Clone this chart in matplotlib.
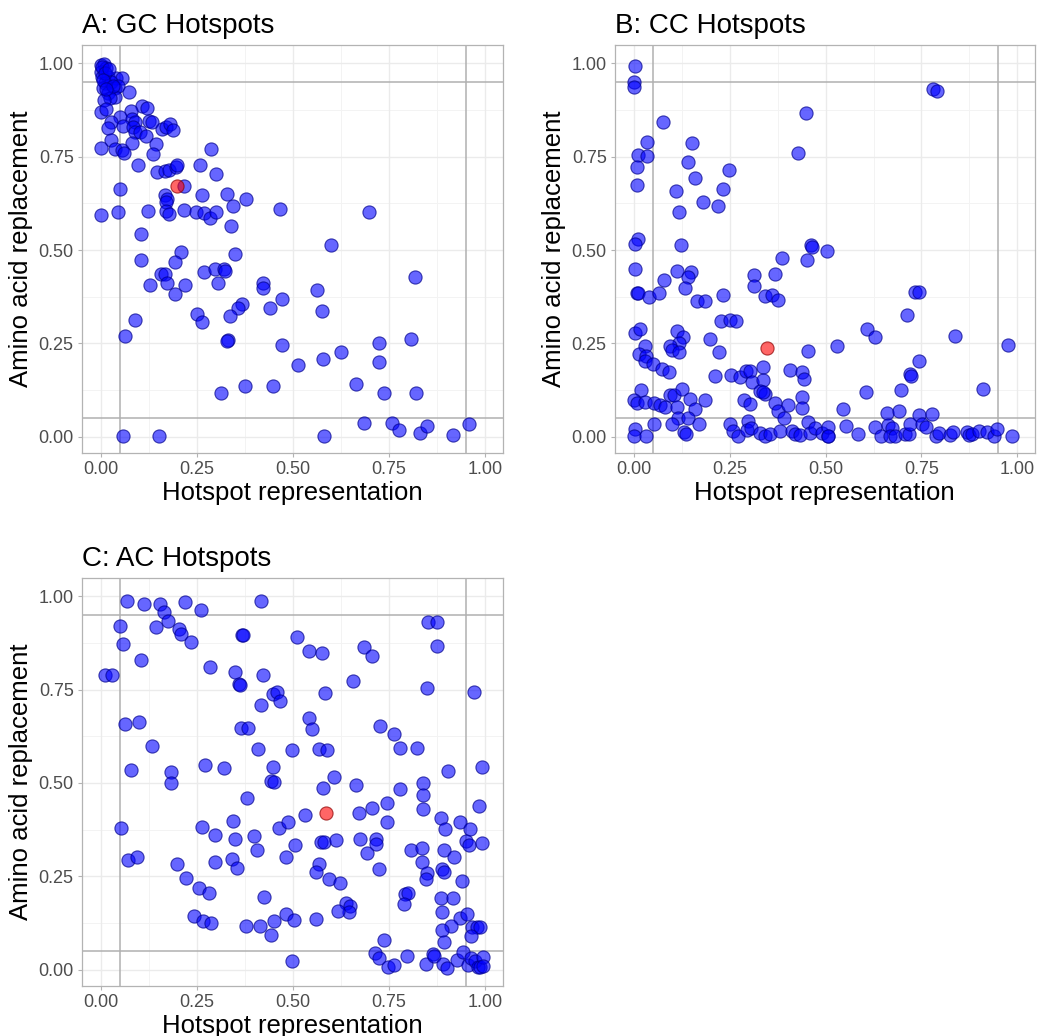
import matplotlib
matplotlib.use("Agg")
import matplotlib.pyplot as plt
import numpy as np

plt.rcParams['font.family'] = ['Liberation Sans', 'DejaVu Sans']

titles = ["A: GC Hotspots", "B: CC Hotspots", "C: AC Hotspots"]
x_label = "Hotspot representation"
y_label = "Amino acid replacement"
tick_vals = [0.0, 0.25, 0.5, 0.75, 1.0]
tick_labels = ["0.00", "0.25", "0.50", "0.75", "1.00"]
ref_lines = [0.05, 0.95]

# Panel A (GC)
gc_x = [0.000, 0.006, 0.013, 0.000, 0.003, 0.017, 0.039, 0.054, 0.009, 0.026, 0.004, 0.035, 0.043, 0.017,
        0.037, 0.022, 0.006, 0.072, 0.000, 0.013, 0.107, 0.119, 0.077, 0.050, 0.026, 0.081, 0.087, 0.124,
        0.132, 0.017, 0.057, 0.083, 0.159, 0.170, 0.180, 0.187, 0.087, 0.100, 0.117, 0.026, 0.080, 0.143,
        0.000, 0.035, 0.055, 0.059, 0.135, 0.285, 0.096, 0.145, 0.165, 0.176, 0.194, 0.197, 0.258, 0.300,
        0.217, 0.050, 0.165, 0.171, 0.170, 0.262, 0.328, 0.377, 0.343, 0.000, 0.043, 0.123, 0.168, 0.177,
        0.216, 0.246, 0.267, 0.283, 0.298, 0.339, 0.467, 0.103, 0.207, 0.350, 0.699, 0.598, 0.103, 0.191,
        0.157, 0.167, 0.126, 0.172, 0.219, 0.191, 0.267, 0.296, 0.320, 0.322, 0.304, 0.423, 0.422, 0.471,
        0.439, 0.368, 0.357, 0.337, 0.250, 0.263, 0.087, 0.061, 0.330, 0.329, 0.471, 0.513, 0.313, 0.376,
        0.448, 0.057, 0.150, 0.818, 0.563, 0.575, 0.577, 0.624, 0.724, 0.808, 0.724, 0.664, 0.738, 0.820,
        0.685, 0.757, 0.777, 0.830, 0.849, 0.916, 0.960, 0.582,
        0.003, 0.010, 0.020, 0.005, 0.030, 0.012]
gc_y = [0.996, 0.997, 0.987, 0.978, 0.964, 0.964, 0.960, 0.960, 0.946, 0.951, 0.935, 0.933, 0.938, 0.920,
        0.911, 0.906, 0.902, 0.924, 0.870, 0.878, 0.886, 0.879, 0.872, 0.857, 0.844, 0.851, 0.844, 0.846,
        0.842, 0.826, 0.832, 0.830, 0.824, 0.830, 0.837, 0.821, 0.817, 0.815, 0.806, 0.795, 0.786, 0.783,
        0.774, 0.771, 0.768, 0.759, 0.756, 0.771, 0.728, 0.708, 0.711, 0.714, 0.723, 0.728, 0.729, 0.703,
        0.672, 0.663, 0.647, 0.637, 0.629, 0.647, 0.650, 0.637, 0.619, 0.594, 0.601, 0.604, 0.604, 0.596,
        0.607, 0.601, 0.598, 0.585, 0.601, 0.565, 0.610, 0.543, 0.496, 0.488, 0.603, 0.513, 0.474, 0.468,
        0.436, 0.436, 0.407, 0.412, 0.405, 0.383, 0.440, 0.450, 0.450, 0.445, 0.412, 0.412, 0.398, 0.370,
        0.346, 0.355, 0.346, 0.322, 0.329, 0.307, 0.313, 0.271, 0.260, 0.255, 0.246, 0.193, 0.117, 0.135,
        0.136, 0.001, 0.001, 0.428, 0.392, 0.336, 0.209, 0.227, 0.250, 0.262, 0.199, 0.142, 0.117, 0.117,
        0.037, 0.037, 0.019, 0.009, 0.029, 0.004, 0.034, 0.003,
        0.990, 0.975, 0.985, 0.955, 0.940, 0.930]
gc_hl_x = [0.197]
gc_hl_y = [0.671]

# Panel B (CC)
cc_x = [0.002, 0.000, 0.000, 0.074, 0.032, 0.009, 0.034, 0.008, 0.008, 0.152, 0.139, 0.159, 0.109, 0.118,
        0.180, 0.218, 0.233, 0.247, 0.448, 0.427, 0.009, 0.002, 0.121, 0.462, 0.463, 0.503, 0.780, 0.791,
        0.002, 0.112, 0.148, 0.139, 0.078, 0.132, 0.006, 0.009, 0.039, 0.065, 0.165, 0.185, 0.233, 0.385,
        0.450, 0.314, 0.368, 0.314, 0.341, 0.361, 0.376, 0.226, 0.250, 0.265, 0.002, 0.015, 0.112, 0.128,
        0.118, 0.093, 0.099, 0.118, 0.028, 0.012, 0.030, 0.028, 0.050, 0.072, 0.091, 0.197, 0.222, 0.453,
        0.336, 0.406, 0.439, 0.443, 0.211, 0.253, 0.276, 0.292, 0.302, 0.307, 0.337, 0.329, 0.341, 0.337,
        0.017, 0.000, 0.006, 0.028, 0.052, 0.067, 0.080, 0.093, 0.105, 0.125, 0.145, 0.112, 0.159, 0.185,
        0.287, 0.302, 0.368, 0.376, 0.392, 0.401, 0.437, 0.439, 0.453, 0.115, 0.139, 0.052, 0.098, 0.170,
        0.002, 0.000, 0.030, 0.130, 0.134, 0.250, 0.258, 0.270, 0.296, 0.294, 0.305, 0.328, 0.341, 0.355,
        0.381, 0.411, 0.420, 0.433, 0.459, 0.472, 0.491, 0.507, 0.507,
        0.733, 0.743, 0.712, 0.608, 0.630, 0.530, 0.837, 0.975, 0.745, 0.721, 0.724, 0.606, 0.698, 0.911,
        0.544, 0.660, 0.691, 0.745, 0.778, 0.506, 0.554, 0.585, 0.628, 0.644, 0.663, 0.672, 0.669, 0.680,
        0.706, 0.718, 0.721, 0.752, 0.762, 0.788, 0.795, 0.826, 0.833, 0.869, 0.874, 0.883, 0.900, 0.921,
        0.941, 0.947, 0.987]
cc_y = [0.994, 0.949, 0.936, 0.842, 0.788, 0.754, 0.753, 0.723, 0.674, 0.786, 0.737, 0.694, 0.658, 0.603,
        0.629, 0.619, 0.663, 0.713, 0.866, 0.759, 0.529, 0.515, 0.513, 0.513, 0.509, 0.498, 0.931, 0.927,
        0.450, 0.445, 0.441, 0.428, 0.421, 0.398, 0.385, 0.385, 0.374, 0.385, 0.363, 0.364, 0.379, 0.479,
        0.472, 0.432, 0.436, 0.404, 0.376, 0.379, 0.367, 0.309, 0.312, 0.311, 0.278, 0.289, 0.282, 0.266,
        0.251, 0.244, 0.233, 0.227, 0.242, 0.221, 0.215, 0.204, 0.195, 0.181, 0.173, 0.263, 0.227, 0.230,
        0.186, 0.178, 0.173, 0.155, 0.162, 0.164, 0.159, 0.175, 0.175, 0.146, 0.153, 0.123, 0.114, 0.120,
        0.126, 0.097, 0.090, 0.093, 0.090, 0.084, 0.079, 0.111, 0.111, 0.129, 0.102, 0.080, 0.075, 0.097,
        0.099, 0.088, 0.090, 0.068, 0.050, 0.084, 0.105, 0.077, 0.039, 0.050, 0.050, 0.034, 0.034, 0.034,
        0.021, 0.001, 0.003, 0.012, 0.008, 0.034, 0.016, 0.001, 0.043, 0.019, 0.023, 0.010, 0.001, 0.007,
        0.014, 0.014, 0.008, 0.005, 0.010, 0.023, 0.010, 0.001, 0.025,
        0.388, 0.387, 0.325, 0.288, 0.266, 0.244, 0.269, 0.246, 0.204, 0.168, 0.162, 0.120, 0.126, 0.128,
        0.075, 0.063, 0.070, 0.059, 0.061, 0.001, 0.029, 0.007, 0.026, 0.001, 0.032, 0.023, 0.001, 0.001,
        0.007, 0.007, 0.034, 0.034, 0.025, 0.003, 0.010, 0.005, 0.012, 0.012, 0.005, 0.008, 0.014, 0.012,
        0.001, 0.021, 0.003]
cc_hl_x = [0.346]
cc_hl_y = [0.238]

# Panel C (AC)
ac_x = [0.068, 0.111, 0.152, 0.163, 0.174, 0.219, 0.261, 0.416, 0.048, 0.143, 0.202, 0.207, 0.233, 0.057,
        0.368, 0.370, 0.510, 0.104, 0.009, 0.029, 0.284, 0.348, 0.423, 0.359, 0.361, 0.448, 0.458, 0.465,
        0.417, 0.063, 0.098, 0.365, 0.383, 0.132, 0.410, 0.497, 0.078, 0.183, 0.183, 0.271, 0.319, 0.448,
        0.443, 0.450,
        0.851, 0.875, 0.875, 0.543, 0.575, 0.686, 0.707, 0.657, 0.583, 0.850, 0.972, 0.542, 0.550, 0.727,
        0.764, 0.569, 0.588, 0.778, 0.823, 0.903, 0.994, 0.608, 0.664, 0.577, 0.779, 0.840,
        0.380, 0.052, 0.263, 0.297, 0.343, 0.350, 0.397, 0.463, 0.487, 0.504, 0.070, 0.093, 0.198, 0.297,
        0.341, 0.354, 0.406, 0.481, 0.222, 0.255, 0.281, 0.424, 0.242, 0.265, 0.287, 0.377, 0.415, 0.443,
        0.450, 0.481, 0.502, 0.498,
        0.840, 0.531, 0.672, 0.707, 0.744, 0.744, 0.840, 0.885, 0.896, 0.936, 0.962, 0.986, 0.572, 0.581,
        0.611, 0.675, 0.717, 0.717, 0.692, 0.807, 0.837, 0.894, 0.921, 0.951, 0.959, 0.994, 0.836, 0.850,
        0.846, 0.888, 0.894, 0.940, 0.568, 0.559, 0.595, 0.623, 0.725, 0.792, 0.801, 0.789, 0.638, 0.649,
        0.647, 0.618, 0.560, 0.886, 0.918, 0.889, 0.936, 0.953, 0.912, 0.889, 0.966, 0.979, 0.988, 0.964,
        0.895, 0.737, 0.714, 0.725, 0.749, 0.764, 0.797, 0.846, 0.866, 0.868, 0.892, 0.901, 0.927, 0.944,
        0.956, 0.964, 0.975, 0.982, 0.988, 0.996, 0.996]
ac_y = [0.987, 0.980, 0.980, 0.958, 0.933, 0.985, 0.964, 0.987, 0.920, 0.918, 0.913, 0.900, 0.877, 0.871,
        0.897, 0.897, 0.891, 0.829, 0.788, 0.790, 0.810, 0.796, 0.788, 0.765, 0.762, 0.739, 0.743, 0.719,
        0.708, 0.659, 0.663, 0.646, 0.647, 0.598, 0.592, 0.588, 0.534, 0.529, 0.500, 0.547, 0.540, 0.542,
        0.504, 0.503,
        0.930, 0.930, 0.866, 0.854, 0.848, 0.863, 0.839, 0.772, 0.741, 0.754, 0.743, 0.674, 0.645, 0.652,
        0.631, 0.592, 0.587, 0.594, 0.594, 0.531, 0.542, 0.516, 0.494, 0.487, 0.485, 0.500,
        0.461, 0.380, 0.383, 0.360, 0.398, 0.349, 0.358, 0.380, 0.396, 0.334, 0.294, 0.302, 0.282, 0.287,
        0.296, 0.271, 0.320, 0.303, 0.246, 0.218, 0.204, 0.195, 0.144, 0.129, 0.126, 0.117, 0.117, 0.093,
        0.130, 0.150, 0.133, 0.023,
        0.468, 0.413, 0.419, 0.432, 0.446, 0.396, 0.429, 0.406, 0.378, 0.396, 0.378, 0.437, 0.343, 0.343,
        0.347, 0.349, 0.349, 0.336, 0.313, 0.320, 0.325, 0.320, 0.303, 0.345, 0.333, 0.340, 0.289, 0.260,
        0.242, 0.269, 0.262, 0.238, 0.282, 0.262, 0.242, 0.231, 0.269, 0.202, 0.204, 0.175, 0.179, 0.170,
        0.154, 0.157, 0.135, 0.193, 0.191, 0.155, 0.139, 0.148, 0.117, 0.106, 0.113, 0.114, 0.115, 0.090,
        0.075, 0.079, 0.044, 0.030, 0.008, 0.013, 0.037, 0.014, 0.043, 0.037, 0.014, 0.005, 0.026, 0.046,
        0.012, 0.032, 0.023, 0.007, 0.007, 0.034, 0.010]
ac_hl_x = [0.585]
ac_hl_y = [0.420]

W, H = 1038, 1036
fig = plt.figure(figsize=(W / 100, H / 100), dpi=100)
fig.patch.set_facecolor("white")

def px_axes(left, top, right, bottom):
    return fig.add_axes([left / W, 1 - bottom / H, (right - left) / W, (bottom - top) / H])

panels = [
    (px_axes(82, 45.5, 502.5, 452.5), gc_x, gc_y, gc_hl_x, gc_hl_y, (-0.0503, 1.0464), (-0.0423, 1.0477)),
    (px_axes(615, 45.5, 1034.5, 452.5), cc_x, cc_y, cc_hl_x, cc_hl_y, (-0.0504, 1.0455), (-0.0423, 1.0477)),
    (px_axes(82, 578, 502.5, 985.7), ac_x, ac_y, ac_hl_x, ac_hl_y, (-0.0503, 1.0464), (-0.043, 1.049)),
]

minor = [0.125, 0.375, 0.625, 0.875]
for (ax, xs, ys, hx, hy, xl, yl), title in zip(panels, titles):
    ax.set_xlim(*xl)
    ax.set_ylim(*yl)
    ax.set_facecolor("white")
    for m in minor:
        ax.axvline(m, color="#f3f3f3", lw=0.7, zorder=0)
        ax.axhline(m, color="#f3f3f3", lw=0.7, zorder=0)
    for t in tick_vals:
        ax.axvline(t, color="#ebebeb", lw=1.0, zorder=0)
        ax.axhline(t, color="#ebebeb", lw=1.0, zorder=0)
    for r in ref_lines:
        ax.axvline(r, color="#b0b0b0", lw=1.1, zorder=1)
        ax.axhline(r, color="#b0b0b0", lw=1.1, zorder=1)
    ax.scatter(xs, ys, s=90, facecolor=(0, 0, 1, 0.6), edgecolor=(0, 0, 0.55, 0.7),
               linewidths=0.8, zorder=3)
    ax.scatter(hx, hy, s=90, facecolor=(1, 0, 0, 0.6), edgecolor=(0.55, 0, 0, 0.7),
               linewidths=0.8, zorder=4)
    ax.set_xticks(tick_vals)
    ax.set_xticklabels(tick_labels)
    ax.set_yticks(tick_vals)
    ax.set_yticklabels(tick_labels)
    ax.tick_params(axis="both", labelsize=13, labelcolor="#4d4d4d", color="#b3b3b3",
                   length=3, width=0.8, pad=3)
    for sp in ax.spines.values():
        sp.set_color("#b3b3b3")
        sp.set_linewidth(0.9)
    ax.set_xlabel(x_label, fontsize=18.5, color="black", labelpad=2)
    ax.set_ylabel(y_label, fontsize=18.5, color="black", labelpad=4)
    ax.set_title(title, fontsize=20, loc="left", pad=9, color="black")

fig.savefig("out.png", dpi=100, facecolor="white")
